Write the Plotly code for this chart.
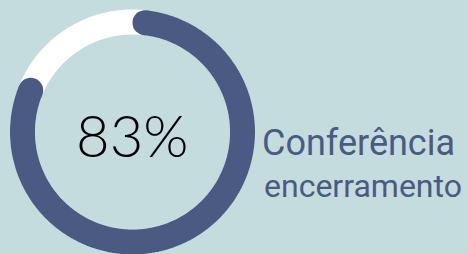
import numpy as np
import plotly.graph_objects as go

# Data
percent_value = 83
center_label = "83%"
title_line1 = "Conferência"
title_line2 = "encerramento"

W, H = 468, 254
cx, cy, r = 132.5, 132, 110
ring_w = 25
bg = "#c4dcdd"
dark = "#4a5a82"

cap_deg = np.degrees((ring_w / 2) / r)
total_deg = percent_value / 100 * 360
theta_full = np.linspace(0, 360, 721)
theta_arc = np.linspace(cap_deg, total_deg - cap_deg, 600)

def xy(theta):
    t = np.radians(theta)
    return cx + r * np.sin(t), cy - r * np.cos(t)

fx, fy = xy(theta_full)
ax_, ay_ = xy(theta_arc)

fig = go.Figure()
fig.add_trace(go.Scatter(x=fx, y=fy, mode="lines",
                         line=dict(color="white", width=ring_w, simplify=False),
                         hoverinfo="skip"))
fig.add_trace(go.Scatter(x=ax_, y=ay_, mode="lines",
                         line=dict(color=dark, width=ring_w, simplify=False),
                         hoverinfo="skip"))
fig.add_trace(go.Scatter(x=[ax_[0], ax_[-1]], y=[ay_[0], ay_[-1]], mode="markers",
                         marker=dict(color=dark, size=ring_w, line=dict(width=0)),
                         hoverinfo="skip"))

fig.add_annotation(x=cx, y=134, text=center_label, showarrow=False, xanchor="center",
                   yanchor="middle", font=dict(family="Lato", size=58, color="black", weight=300))
fig.add_annotation(x=260, y=143, text=title_line1, showarrow=False, xanchor="left",
                   yanchor="middle", font=dict(family="Roboto", size=36, color=dark))
fig.add_annotation(x=262, y=186, text=title_line2, showarrow=False, xanchor="left",
                   yanchor="middle", font=dict(family="Roboto", size=32, color=dark))

fig.update_layout(width=W, height=H, margin=dict(l=0, r=0, t=0, b=0),
                  paper_bgcolor=bg, plot_bgcolor=bg, showlegend=False,
                  xaxis=dict(range=[0, W], visible=False, fixedrange=True),
                  yaxis=dict(range=[H, 0], visible=False, fixedrange=True))
fig.write_html("out.html", config={"displayModeBar": False},
               post_script="document.body.style.margin='0';")
